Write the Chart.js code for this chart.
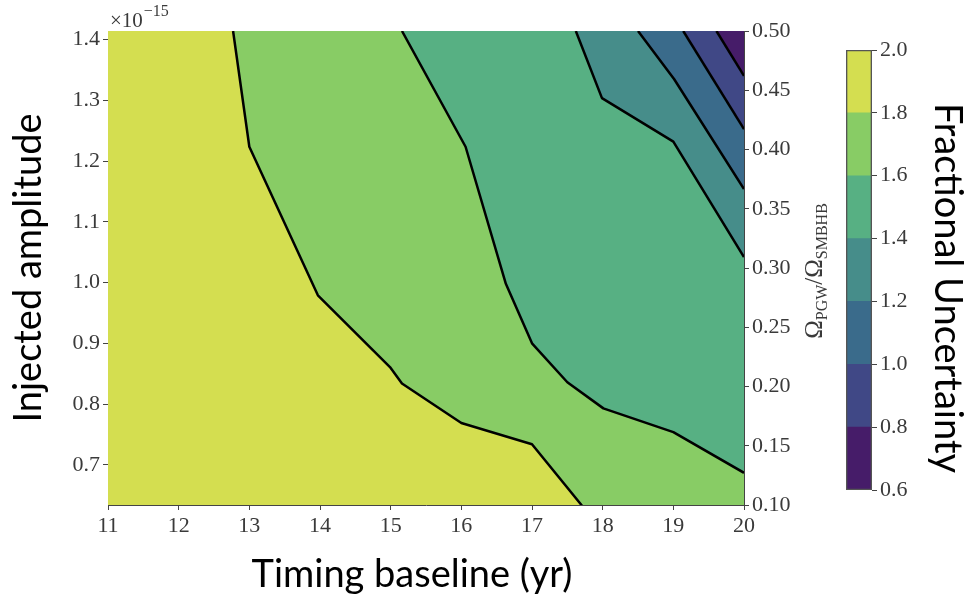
<!DOCTYPE html>
<html>
<head>
<meta charset="utf-8">
<script src="https://cdn.jsdelivr.net/npm/chart.js@4.4.1/dist/chart.umd.min.js"></script>
<style>
  html, body { margin: 0; padding: 0; background: #fff; }
  #wrap { position: relative; width: 967px; height: 595px; }
  #main { position: absolute; left: 0; top: 0; }
  #bar { position: absolute; left: 820px; top: 0; }
</style>
</head>
<body>
<div id="wrap">
  <canvas id="main" width="967" height="595"></canvas>
  <canvas id="bar" width="147" height="595"></canvas>
</div>
<script>
// axis ranges
const yearMin = 11, yearMax = 20;
const ampMin = 0.634, ampMax = 1.414;   // x 1e-15
const ratioMin = 0.10, ratioMax = 0.50;
const below = 0.60;                      // just under the frame, closes the lowest band

// tick labels
const yearTicks = [11, 12, 13, 14, 15, 16, 17, 18, 19, 20];
const ampTicks = [0.7, 0.8, 0.9, 1.0, 1.1, 1.2, 1.3, 1.4];
const ratioTicks = [0.10, 0.15, 0.20, 0.25, 0.30, 0.35, 0.40, 0.45, 0.50];
const levels = [0.6, 0.8, 1.0, 1.2, 1.4, 1.6, 1.8, 2.0];

// one colour per band between two levels (low -> high)
const bandColors = ['#461c69', '#404886', '#3a6b8b', '#468d8a', '#57b083', '#88cc65', '#d4de50'];

// contour lines (timing baseline, amplitude); each runs from the top edge down/right
const c18x = [12.77, 13.0, 13.97, 14.99, 15.16, 16.0, 17.0, 17.70, 17.70, 20.0];
const c18y = [1.414, 1.2235, 0.979, 0.861, 0.834, 0.769, 0.734, 0.634, below, below];
const c16x = [15.16, 16.06, 16.63, 17.0, 17.5, 18.01, 19.0, 20.0];
const c16y = [1.414, 1.2235, 0.998, 0.900, 0.836, 0.793, 0.754, 0.687];
const c14x = [17.62, 17.99, 19.0, 20.0];
const c14y = [1.414, 1.3035, 1.232, 1.042];
const c12x = [18.50, 19.01, 20.0];
const c12y = [1.414, 1.335, 1.154];
const c10x = [19.14, 20.0];
const c10y = [1.414, 1.2525];
const c08x = [19.61, 20.0];
const c08y = [1.414, 1.340];

const tickFont = { family: 'Liberation Serif', size: 22 };
const tickColor = '#3a3a3a';
const axisColor = '#444';
const labelFont = '38px Lato';

function pts(xs, ys) {
  return xs.map((x, i) => ({ x: x, y: ys[i] }));
}

// a contour line, shaded from the line up to the top of the plot
function contour(label, xs, ys, color) {
  return {
    label: label,
    data: pts(xs, ys),
    fill: 'end',
    backgroundColor: color,
    borderColor: '#000',
    borderWidth: 2.5,
    borderJoinStyle: 'round',
    pointRadius: 0,
    tension: 0,
    clip: 0
  };
}

function fixedTicks(list) {
  return s => { s.ticks = list.map(v => ({ value: v })); };
}

// exponent, subscripted ratio label and the x title
const extraText = {
  id: 'extraText',
  afterDraw(chart) {
    const { ctx, chartArea } = chart;
    ctx.save();
    ctx.fillStyle = tickColor;
    ctx.textBaseline = 'alphabetic';
    ctx.textAlign = 'left';
    ctx.font = '21px "Liberation Serif"';
    const x0 = chartArea.left + 2;
    ctx.fillText('\u00d710', x0, chartArea.top - 4);
    const w = ctx.measureText('\u00d710').width;
    ctx.font = '16px "Liberation Serif"';
    ctx.fillText('\u221215', x0 + w + 1, chartArea.top - 15);

    ctx.fillStyle = '#000';
    ctx.textAlign = 'center';
    ctx.font = labelFont;
    ctx.fillText('Timing baseline (yr)', 412, 587);

    ctx.fillStyle = tickColor;
    ctx.textAlign = 'left';
    const parts = [['\u03a9', 25, 0], ['PGW', 16, 5], ['/\u03a9', 25, 0], ['SMBHB', 16, 5]];
    let total = 0;
    parts.forEach(p => { ctx.font = p[1] + 'px "Liberation Serif"'; total += ctx.measureText(p[0]).width; });
    ctx.translate(822, 271);
    ctx.rotate(-Math.PI / 2);
    let x = -total / 2;
    parts.forEach(p => {
      ctx.font = p[1] + 'px "Liberation Serif"';
      ctx.fillText(p[0], x, p[2]);
      x += ctx.measureText(p[0]).width;
    });
    ctx.restore();
  }
};

new Chart(document.getElementById('main'), {
  type: 'line',
  data: {
    datasets: [
      contour('0.8', c08x, c08y, bandColors[0]),
      contour('1.0', c10x, c10y, bandColors[1]),
      contour('1.2', c12x, c12y, bandColors[2]),
      contour('1.4', c14x, c14y, bandColors[3]),
      contour('1.6', c16x, c16y, bandColors[4]),
      contour('1.8', c18x, c18y, bandColors[5]),
      {
        label: 'base',
        data: pts([yearMin, yearMax], [below, below]),
        fill: 'end',
        backgroundColor: bandColors[6],
        borderWidth: 0,
        pointRadius: 0,
        clip: 0
      }
    ]
  },
  options: {
    responsive: false,
    animation: false,
    layout: { padding: 0 },
    plugins: { legend: { display: false }, tooltip: { enabled: false } },
    scales: {
      x: {
        type: 'linear', position: 'bottom', min: yearMin, max: yearMax,
        afterBuildTicks: fixedTicks(yearTicks),
        afterFit: s => { s.height = 90; },
        ticks: { font: tickFont, color: tickColor, padding: 3, autoSkip: false, maxRotation: 0, callback: v => String(v) },
        grid: { drawOnChartArea: false, tickLength: 5, color: axisColor },
        border: { color: axisColor }
      },
      xTop: {
        type: 'linear', position: 'top', min: yearMin, max: yearMax,
        afterFit: s => { s.height = 31; },
        ticks: { display: false },
        grid: { display: false },
        border: { color: axisColor }
      },
      y: {
        type: 'linear', position: 'left', min: ampMin, max: ampMax,
        afterBuildTicks: fixedTicks(ampTicks),
        afterFit: s => { s.width = 108; },
        ticks: { font: tickFont, color: tickColor, padding: 3, autoSkip: false, callback: v => v.toFixed(1) },
        grid: { drawOnChartArea: false, tickLength: 5, color: axisColor },
        border: { color: axisColor },
        title: { display: true, text: 'Injected amplitude', color: '#000', font: { family: 'Lato', size: 38 }, padding: { top: 6, bottom: 0 } }
      },
      y2: {
        type: 'linear', position: 'right', min: ratioMin, max: ratioMax,
        afterBuildTicks: fixedTicks(ratioTicks),
        afterFit: s => { s.width = 223; },
        ticks: { font: tickFont, color: tickColor, padding: 3, autoSkip: false, callback: v => v.toFixed(2) },
        grid: { drawOnChartArea: false, tickLength: 5, color: axisColor },
        border: { color: axisColor }
      }
    }
  },
  plugins: [extraText]
});

// colour bar: one floating bar per band, plus an outline around the whole bar
const barSets = bandColors.map((c, i) => ({
  label: levels[i] + '-' + levels[i + 1],
  data: [[levels[i], levels[i + 1]]],
  backgroundColor: c,
  borderWidth: 0
}));
barSets.unshift({
  label: 'outline',
  data: [[levels[0], levels[levels.length - 1]]],
  backgroundColor: 'rgba(0,0,0,0)',
  borderColor: '#555',
  borderWidth: 1,
  borderSkipped: false
});

// colour bar label, reading downwards
const barTitle = {
  id: 'barTitle',
  afterDraw(chart) {
    const { ctx } = chart;
    ctx.save();
    ctx.fillStyle = '#000';
    ctx.font = labelFont;
    ctx.textAlign = 'center';
    ctx.textBaseline = 'alphabetic';
    ctx.translate(115, 288);
    ctx.rotate(Math.PI / 2);
    ctx.fillText('Fractional Uncertainty', 0, 0);
    ctx.restore();
  }
};

new Chart(document.getElementById('bar'), {
  type: 'bar',
  data: { labels: [''], datasets: barSets },
  options: {
    responsive: false,
    animation: false,
    grouped: false,
    barPercentage: 1,
    categoryPercentage: 1,
    layout: { padding: { left: 26, top: 50, bottom: 105, right: 0 } },
    plugins: { legend: { display: false }, tooltip: { enabled: false } },
    scales: {
      x: { display: false },
      y: {
        position: 'right', min: 0.6, max: 2.0,
        afterBuildTicks: fixedTicks(levels),
        afterFit: s => { s.width = 95; },
        ticks: { font: tickFont, color: tickColor, padding: 3, autoSkip: false, callback: v => v.toFixed(1) },
        grid: { drawOnChartArea: false, tickLength: 5, color: axisColor },
        border: { display: false }
      }
    }
  },
  plugins: [barTitle]
});
</script>
</body>
</html>
